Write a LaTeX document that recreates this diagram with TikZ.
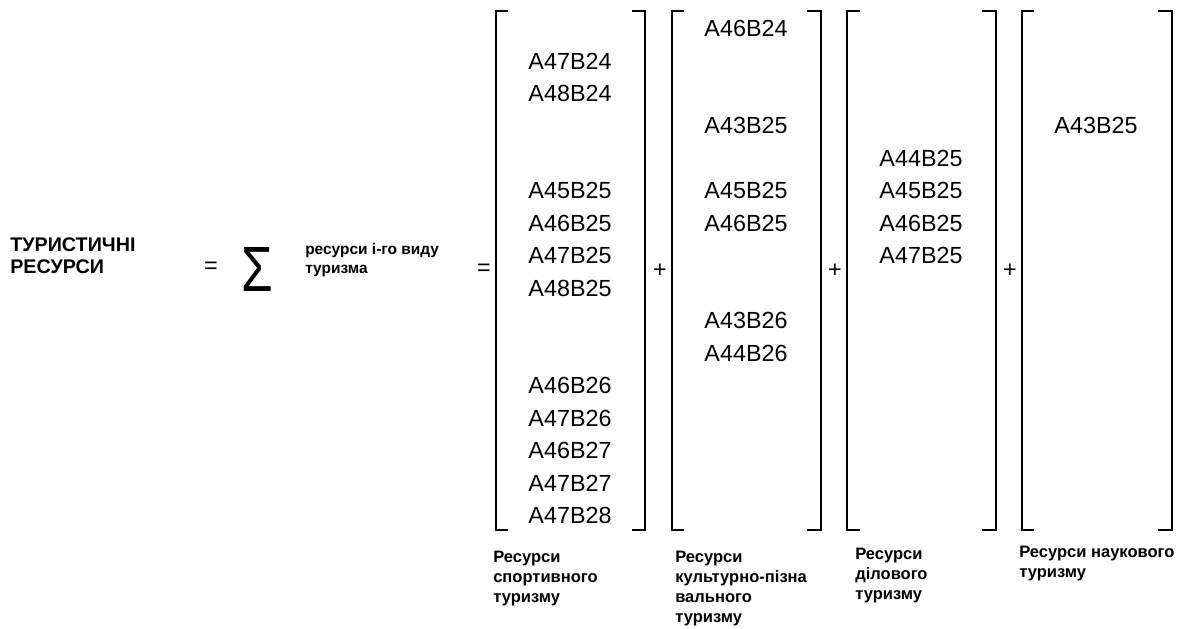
\documentclass[tikz,border=0pt]{standalone}
\usepackage{fontspec}
\setmainfont{Liberation Sans}
\tikzset{
	kod/.style={font=\fontsize{17.5}{20}\selectfont, inner sep=0pt},
	znak/.style={font=\fontsize{17.5}{20}\selectfont, inner sep=0pt},
	pidpys/.style={font=\bfseries\fontsize{12.4}{15}\selectfont, align=left, anchor=north west, inner sep=0pt},
	duzhka/.style={line width=1.3pt, line join=miter}
}
\begin{document}
\begin{tikzpicture}[x=0.75pt, y=-0.75pt]
	\useasboundingbox (0,0) rectangle (1184,628);
	% Ліва частина
		\node[font=\bfseries\fontsize{14.8}{16.8}\selectfont, align=left, anchor=north west, inner sep=0pt] (tur) at (10,237) {ТУРИСТИЧНІ\\РЕСУРСИ};
		\node[znak] (dor1) at (211,268) {=};
		\node[font=\fontsize{48}{52}\selectfont, xscale=0.8, inner sep=0pt] (suma) at (257,269.5) {Σ};
		\node[font=\bfseries\fontsize{11.6}{14.2}\selectfont, align=left, anchor=north west, inner sep=0pt] (vyd) at (305,243) {ресурси і-го виду\\туризма};
		\node[znak] (dor2) at (484,270) {=};

	% Дужки
		% Спортивний
			\draw[duzhka] (508,11) -- (496,11) -- (496,530) -- (508,530);
			\draw[duzhka] (632,11) -- (645,11) -- (645,530) -- (632,530);
		% Культурно-пізнавальний
			\draw[duzhka] (684,11) -- (672,11) -- (672,530) -- (684,530);
			\draw[duzhka] (807,11) -- (821,11) -- (821,530) -- (807,530);
		% Діловий
			\draw[duzhka] (860,11) -- (847,11) -- (847,530) -- (860,530);
			\draw[duzhka] (982,11) -- (996,11) -- (996,530) -- (982,530);
		% Науковий
			\draw[duzhka] (1034,11) -- (1022,11) -- (1022,530) -- (1034,530);
			\draw[duzhka] (1158,11) -- (1172,11) -- (1172,530) -- (1158,530);

	% Плюси
		\node[znak] (plus1) at (660,271) {+};
		\node[znak] (plus2) at (835,271) {+};
		\node[znak] (plus3) at (1010,271) {+};

	% Спортивний туризм
		\node[kod] (s1) at (570,61) {A47B24};
		\node[kod] (s2) at (570,93) {A48B24};
		\node[kod] (s3) at (570,190.5) {A45B25};
		\node[kod] (s4) at (570,223) {A46B25};
		\node[kod] (s5) at (570,255.5) {A47B25};
		\node[kod] (s6) at (570,288) {A48B25};
		\node[kod] (s7) at (570,385.5) {A46B26};
		\node[kod] (s8) at (570,418) {A47B26};
		\node[kod] (s9) at (570,450.5) {A46B27};
		\node[kod] (s10) at (570,483) {A47B27};
		\node[kod] (s11) at (570,515.5) {A47B28};

	% Культурно-пізнавальний туризм
		\node[kod] (k1) at (746,28) {A46B24};
		\node[kod] (k2) at (746,125.5) {A43B25};
		\node[kod] (k3) at (746,190.5) {A45B25};
		\node[kod] (k4) at (746,223) {A46B25};
		\node[kod] (k5) at (746,320.5) {A43B26};
		\node[kod] (k6) at (746,353) {A44B26};

	% Діловий туризм
		\node[kod] (d1) at (921,158) {A44B25};
		\node[kod] (d2) at (921,190.5) {A45B25};
		\node[kod] (d3) at (921,223) {A46B25};
		\node[kod] (d4) at (921,255.5) {A47B25};

	% Науковий туризм
		\node[kod] (n1) at (1096,125.5) {A43B25};

	% Підписи
		\node[pidpys] (ps) at (493,551) {Ресурси\\спортивного\\туризму};
		\node[pidpys] (pk) at (675,551) {Ресурси\\культурно-пізна\\вального\\туризму};
		\node[pidpys] (pd) at (855,548) {Ресурси\\ділового\\туризму};
		\node[pidpys] (pn) at (1019,546) {Ресурси наукового\\туризму};
\end{tikzpicture}
\end{document}
